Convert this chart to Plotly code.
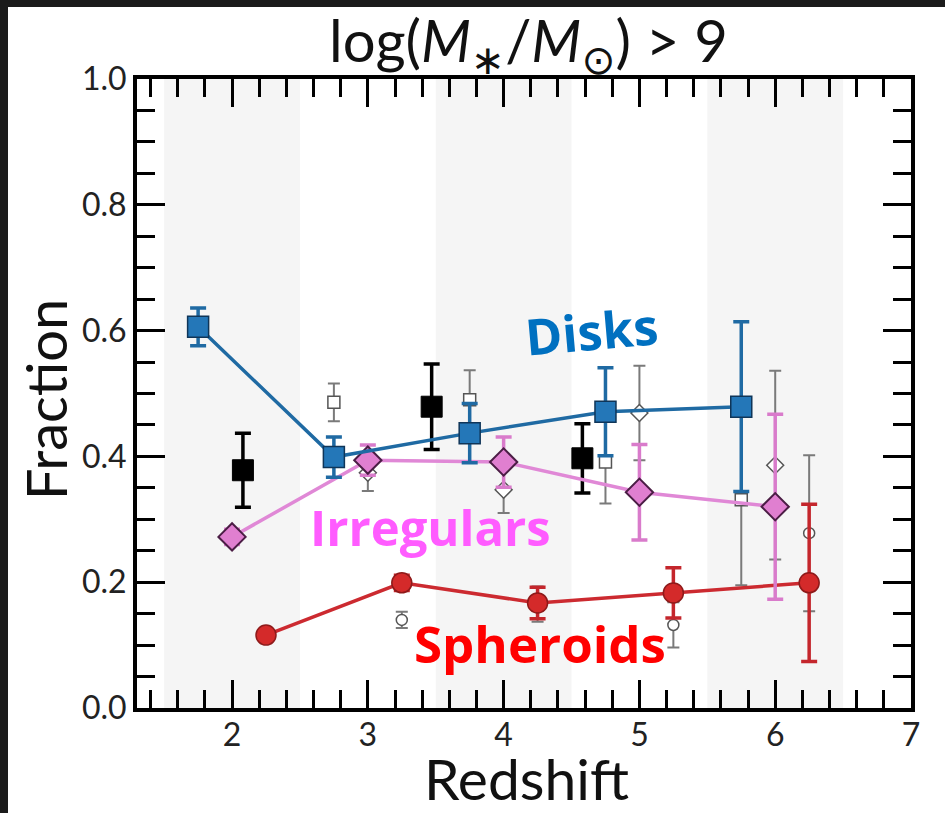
import plotly.graph_objects as go

# ---- data -------------------------------------------------------------
# this work: fractions per morphology
disk_z = [1.75, 2.75, 3.75, 4.75, 5.75]
disk_f = [0.606, 0.399, 0.437, 0.471, 0.479]
disk_err = [0.030, 0.032, 0.047, 0.070, 0.135]

irr_z = [2.0, 3.0, 4.0, 5.0, 6.0]
irr_f = [0.272, 0.394, 0.391, 0.343, 0.320]
irr_err = [0.012, 0.024, 0.040, 0.076, 0.147]

sph_z = [2.25, 3.25, 4.25, 5.25, 6.25]
sph_f = [0.116, 0.199, 0.167, 0.183, 0.199]
sph_err = [0.008, 0.012, 0.025, 0.040, 0.125]

# comparison samples (open symbols)
ref_disk_z = [2.75, 3.75, 4.75, 5.75]
ref_disk_f = [0.486, 0.490, 0.391, 0.331]
ref_disk_err = [0.030, 0.047, 0.066, 0.136]

ref_irr_z = [3.0, 4.0, 5.0, 6.0]
ref_irr_f = [0.374, 0.347, 0.469, 0.386]
ref_irr_err = [0.029, 0.037, 0.075, 0.150]

ref_sph_z = [3.25, 4.25, 5.25, 6.25]
ref_sph_f = [0.140, 0.165, 0.132, 0.278]
ref_sph_err = [0.013, 0.028, 0.036, 0.124]

# additional disk measurements (black squares)
blk_z = [2.08, 3.47, 4.58]
blk_f = [0.378, 0.479, 0.397]
blk_err = [0.059, 0.068, 0.055]

# shaded redshift bins
band_lo = [1.5, 3.5, 5.5]
band_hi = [2.5, 4.5, 6.5]

x_ticks = [2, 3, 4, 5, 6, 7]
y_ticks = [0.0, 0.2, 0.4, 0.6, 0.8, 1.0]

# ---- figure -----------------------------------------------------------
W, H = 945, 813
ML, MR, MT, MB = 137, 34, 79, 105
PW, PH = W - ML - MR, H - MT - MB


def px_x(p):
    return (p - ML) / PW


def px_y(p):
    return (H - MB - p) / PH


fig = go.Figure()

GRAY = "#7a7a7a"


def err(arr, color, thick, width):
    return dict(type="data", array=arr, color=color, thickness=thick, width=width, visible=True)


# open comparison symbols
fig.add_trace(go.Scatter(
    x=ref_disk_z, y=ref_disk_f, mode="markers",
    marker=dict(symbol="square", size=12, color="white", line=dict(color="#555555", width=1.5)),
    error_y=err(ref_disk_err, GRAY, 2, 6), showlegend=False))
fig.add_trace(go.Scatter(
    x=ref_irr_z, y=ref_irr_f, mode="markers",
    marker=dict(symbol="diamond", size=13, color="white", line=dict(color="#555555", width=1.5)),
    error_y=err(ref_irr_err, GRAY, 2, 6), showlegend=False))
fig.add_trace(go.Scatter(
    x=ref_sph_z, y=ref_sph_f, mode="markers",
    marker=dict(symbol="circle", size=11, color="white", line=dict(color="#555555", width=1.5)),
    error_y=err(ref_sph_err, GRAY, 2, 6), showlegend=False))

# black squares
fig.add_trace(go.Scatter(
    x=blk_z, y=blk_f, mode="markers",
    marker=dict(symbol="square", size=21, color="black", line=dict(color="black", width=1)),
    error_y=err(blk_err, "black", 3.5, 8), showlegend=False))

# spheroids
fig.add_trace(go.Scatter(
    x=sph_z, y=sph_f, mode="lines+markers",
    line=dict(color="#cc2a30", width=3.5),
    marker=dict(symbol="circle", size=20, color="#d42a2a", line=dict(color="#8e1a1a", width=1.5)),
    error_y=err(sph_err, "#c4262c", 3.5, 8), showlegend=False))

# irregulars
fig.add_trace(go.Scatter(
    x=irr_z, y=irr_f, mode="lines+markers",
    line=dict(color="#e088d6", width=3.5),
    marker=dict(symbol="diamond", size=21, color="#e07fd0", line=dict(color="#4b1d45", width=2)),
    error_y=err(irr_err, "#d97bcb", 3.5, 8), showlegend=False))

# disks
fig.add_trace(go.Scatter(
    x=disk_z, y=disk_f, mode="lines+markers",
    line=dict(color="#1f6aa3", width=3.5),
    marker=dict(symbol="square", size=21, color="#2477b8", line=dict(color="#0f3558", width=1.5)),
    error_y=err(disk_err, "#1f6aa3", 3.5, 8), showlegend=False))

# ---- shapes -----------------------------------------------------------
shapes = []
for lo, hi in zip(band_lo, band_hi):
    shapes.append(dict(type="rect", xref="x", yref="paper", x0=lo, x1=hi, y0=0, y1=1,
                       fillcolor="#f5f5f5", line=dict(width=0), layer="below"))
# white strip along the right page edge
shapes.append(dict(type="rect", xref="paper", yref="paper",
                   x0=px_x(925), x1=px_x(W + 5), y0=px_y(H + 5), y1=px_y(0),
                   fillcolor="white", line=dict(width=0), layer="above"))
# dark frame along the top and left edges
shapes.append(dict(type="rect", xref="paper", yref="paper",
                   x0=px_x(0), x1=px_x(W), y0=px_y(7), y1=px_y(0),
                   fillcolor="#1b1b1b", line=dict(width=0), layer="above"))
shapes.append(dict(type="rect", xref="paper", yref="paper",
                   x0=px_x(0), x1=px_x(8), y0=px_y(H), y1=px_y(0),
                   fillcolor="#1b1b1b", line=dict(width=0), layer="above"))

# ---- annotations ------------------------------------------------------
AX_FONT = "Lato, 'DejaVu Sans', sans-serif"
LBL_FONT = "'Open Sans', 'Noto Sans', sans-serif"
annotations = [
    dict(text="log(<i>M</i><sub>∗</sub>/<i>M</i><sub>⊙</sub>) > 9", xref="paper", yref="paper",
         x=px_x(528), y=px_y(44), showarrow=False, xanchor="center", yanchor="middle",
         font=dict(family=AX_FONT, size=58, color="#111111")),
    dict(text="Fraction", xref="paper", yref="paper", x=px_x(45), y=px_y(400),
         showarrow=False, textangle=-90, xanchor="center", yanchor="middle",
         font=dict(family=AX_FONT, size=56, color="#111111")),
    dict(text="Redshift", xref="paper", yref="paper", x=px_x(526), y=px_y(778),
         showarrow=False, xanchor="center", yanchor="middle",
         font=dict(family=AX_FONT, size=57, color="#111111")),
    dict(text="<b>Disks</b>", x=4.65, y=0.60, xref="x", yref="y", showarrow=False,
         textangle=-5, font=dict(family=LBL_FONT, size=50, color="#0070c0")),
    dict(text="<b>Irregulars</b>", x=3.46, y=0.288, xref="x", yref="y", showarrow=False,
         font=dict(family=LBL_FONT, size=49, color="#ff5cff")),
    dict(text="<b>Spheroids</b>", x=4.27, y=0.103, xref="x", yref="y", showarrow=False,
         font=dict(family=LBL_FONT, size=51, color="#ff0000")),
]

axis_common = dict(
    showline=True, linecolor="black", linewidth=4, mirror="allticks",
    ticks="inside", ticklen=28, tickwidth=2.5, tickcolor="black",
    showgrid=False, zeroline=False,
    tickfont=dict(family=AX_FONT, size=32, color="#222222"),
)

fig.update_layout(
    width=W, height=H,
    margin=dict(l=ML, r=MR, t=MT, b=MB),
    paper_bgcolor="white", plot_bgcolor="white",
    shapes=shapes, annotations=annotations,
    xaxis=dict(range=[1.3, 7], tickvals=x_ticks, ticktext=[str(v) for v in x_ticks],
               minor=dict(ticks="inside", dtick=0.2, tick0=0, ticklen=18, tickwidth=2.5,
                          tickcolor="black", showgrid=False),
               ticklabelstandoff=-4, **axis_common),
    yaxis=dict(range=[0, 1], tickvals=y_ticks, ticktext=[f"{v:.1f}" for v in y_ticks],
               minor=dict(ticks="inside", dtick=0.05, tick0=0, ticklen=18, tickwidth=2.5,
                          tickcolor="black", showgrid=False),
               ticklabelstandoff=0, **axis_common),
)

# page styling: no body margin, no scrollbars
PAGE_JS = (
    "var s=document.createElement('style');"
    "s.textContent='html,body{margin:0!important;padding:0!important;overflow:hidden!important;"
    "background:#ffffff;}::-webkit-scrollbar{width:0!important;height:0!important;display:none;}';"
    "document.head.appendChild(s);"
)
fig.write_html("out.html", post_script=PAGE_JS)
